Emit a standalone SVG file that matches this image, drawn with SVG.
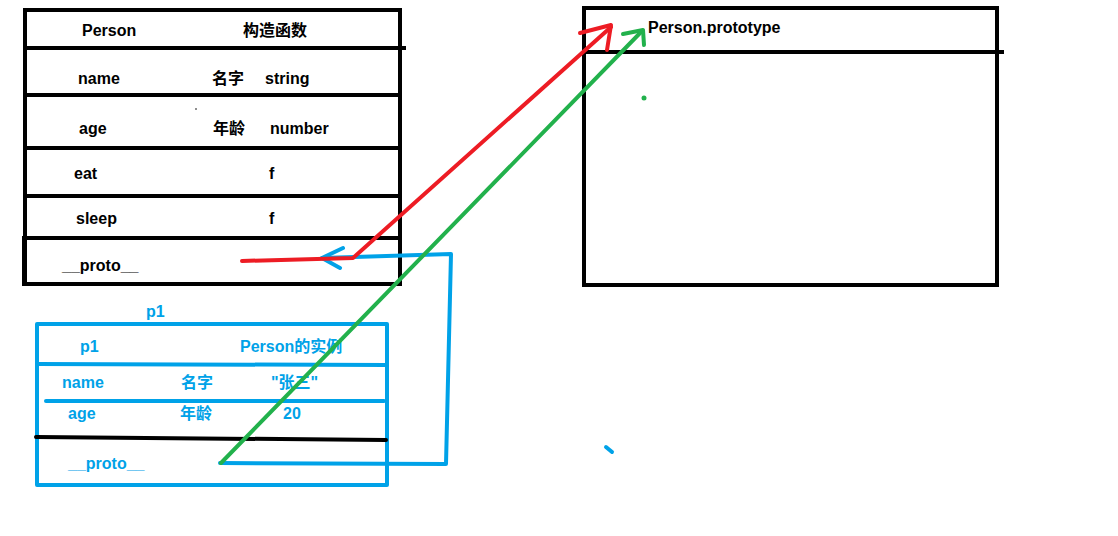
<svg xmlns="http://www.w3.org/2000/svg" width="1118" height="536" viewBox="0 0 1118 536">
<style>
.t{font-family:"Liberation Sans","Noto Sans CJK SC",sans-serif;font-weight:bold;font-size:16px;fill:#000}
.b{fill:#00a2e8}
.k{stroke:#000;stroke-width:4;fill:none;stroke-linecap:square}
.bl{stroke:#00a2e8;stroke-width:4;fill:none;stroke-linecap:round;stroke-linejoin:round}
.rd{stroke:#ed1c24;stroke-width:4;fill:none;stroke-linecap:round;stroke-linejoin:round}
.gr{stroke:#22b14c;stroke-width:4;fill:none;stroke-linecap:round;stroke-linejoin:round}
</style>
<rect width="1118" height="536" fill="#fff"/>
<g id="person">
<rect class="k" x="25" y="10" width="375" height="274"/>
<line class="k" x1="25" y1="48" x2="404" y2="48"/>
<line class="k" x1="25" y1="95" x2="400" y2="95"/>
<line class="k" x1="25" y1="148" x2="400" y2="148"/>
<line class="k" x1="25" y1="196" x2="400" y2="196"/>
<line class="k" x1="24" y1="238" x2="400" y2="238"/>
<line class="k" x1="24" y1="238" x2="24" y2="284"/>
<circle cx="196" cy="109" r="0.8" fill="#000"/>
<text class="t" x="82" y="36">Person</text>
<text class="t" x="243" y="36">构造函数</text>
<text class="t" x="78" y="84">name</text>
<text class="t" x="212" y="84">名字</text>
<text class="t" x="265" y="84">string</text>
<text class="t" x="79" y="134">age</text>
<text class="t" x="213" y="134">年龄</text>
<text class="t" x="270" y="134">number</text>
<text class="t" x="74" y="179">eat</text>
<text class="t" x="269" y="179">f</text>
<text class="t" x="76" y="224">sleep</text>
<text class="t" x="269" y="224">f</text>
<text class="t" x="62" y="271">__proto__</text>
</g>
<g id="prototype">
<rect class="k" x="584" y="8" width="413" height="277"/>
<line class="k" x1="584" y1="52" x2="1002" y2="52"/>
<text class="t" x="648" y="33">Person.prototype</text>
<circle cx="644" cy="98" r="2.5" fill="#22b14c"/>
</g>
<g id="p1">
<text class="t b" x="146" y="317">p1</text>
<rect class="bl" x="37" y="324" width="350" height="161" stroke-linecap="square"/>
<line class="bl" x1="37" y1="364" x2="386" y2="365"/>
<line class="bl" x1="46" y1="401" x2="384" y2="401"/>
<line stroke="#000" stroke-width="4" stroke-linecap="round" x1="36" y1="437" x2="386" y2="440"/>
<text class="t b" x="80" y="352">p1</text>
<text class="t b" x="240" y="352">Person的实例</text>
<text class="t b" x="62" y="388">name</text>
<text class="t b" x="181" y="388">名字</text>
<text class="t b" x="271" y="388">"张三"</text>
<text class="t b" x="68" y="419">age</text>
<text class="t b" x="180" y="419">年龄</text>
<text class="t b" x="283" y="419">20</text>
<text class="t b" x="68" y="469">__proto__</text>
</g>
<g id="connectors">
<polyline class="bl" points="220,463 446,464 451,254 322,258"/>
<polyline class="bl" points="343,248 322,258 340,268"/>
<polyline class="rd" points="242,261 353,258 611,27"/>
<polyline class="rd" points="580,33 611,25 607,50"/>
<line class="gr" x1="221" y1="463" x2="642" y2="31"/>
<polyline class="gr" points="623,34 643,30 644,45"/>
<line class="bl" x1="606" y1="447" x2="612" y2="452"/>
</g>
</svg>
